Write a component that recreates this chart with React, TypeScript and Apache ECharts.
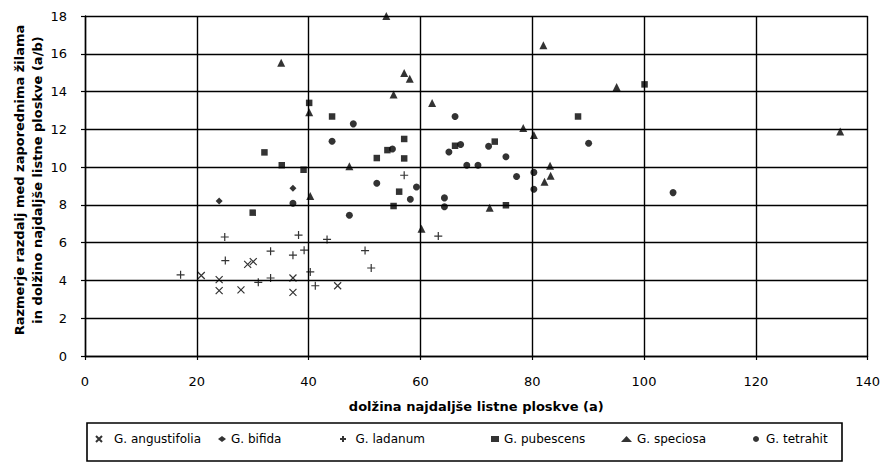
import React, { useEffect, useRef } from "react";
import * as echarts from "echarts";

const xTicks = [0, 20, 40, 60, 80, 100, 120, 140];
const yTicks = [0, 2, 4, 6, 8, 10, 12, 14, 16, 18];

const angustifolia: [number, number][] = [
  [20.8, 4.26], [24, 4.04], [24, 3.46], [27.9, 3.5], [29.1, 4.85], [30.1, 5.0],
  [37.2, 4.13], [37.2, 3.37], [45.2, 3.72],
];
const bifida: [number, number][] = [
  [24, 8.2], [37.2, 8.88],
];
const ladanum: [number, number][] = [
  [17.1, 4.3], [25, 6.3], [25.1, 5.05], [31, 3.9], [33.2, 4.13], [33.2, 5.55],
  [37.2, 5.34], [38.2, 6.4], [39.2, 5.6], [40.3, 4.45], [41.2, 3.72], [43.3, 6.17],
  [50.1, 5.58], [51.2, 4.66], [57.1, 9.57], [63.2, 6.35],
];
const pubescens: [number, number][] = [
  [30, 7.59], [32.1, 10.78], [35.2, 10.1], [39.1, 9.86], [40.1, 13.4], [44.2, 12.68],
  [52.2, 10.48], [54.1, 10.9], [55.2, 7.94], [56.2, 8.7], [57.1, 11.49], [57.1, 10.46],
  [66.2, 11.13], [73.3, 11.35], [75.3, 7.98], [88.2, 12.68], [100.1, 14.38],
];
const speciosa: [number, number][] = [
  [35.1, 15.53], [40.1, 12.9], [40.3, 8.47], [47.3, 10.04], [53.9, 18.0], [55.2, 13.85],
  [57.1, 14.98], [58.1, 14.68], [60.2, 6.74], [62.1, 13.4], [72.4, 7.85], [78.4, 12.07],
  [80.3, 11.7], [82.0, 16.45], [82.2, 9.22], [83.3, 9.54], [83.2, 10.07], [95.1, 14.24],
  [135.1, 11.88],
];
const tetrahit: [number, number][] = [
  [37.2, 8.09], [44.2, 11.37], [47.3, 7.45], [48.0, 12.29], [52.2, 9.15], [55.0, 10.96],
  [58.2, 8.3], [59.3, 8.95], [64.3, 8.37], [64.3, 7.9], [65.1, 10.8], [66.2, 12.68],
  [67.2, 11.2], [68.3, 10.1], [70.3, 10.1], [72.2, 11.1], [75.3, 10.55], [77.2, 9.5],
  [80.3, 9.72], [80.3, 8.83], [90.1, 11.26], [105.2, 8.65],
];

const seriesNames = ["G. angustifolia", "G. bifida", "G. ladanum", "G. pubescens", "G. speciosa", "G. tetrahit"];
const xTitle = "dolžina najdaljše listne ploskve (a)";
const yTitle1 = "Razmerje razdalj med zaporednima žilama";
const yTitle2 = "in dolžino najdaljše listne ploskve (a/b)";

const CROSS = "path://M0,0L10,10M10,0L0,10";
const PLUS = "path://M5,0L5,10M0,5L10,5";

export default function App() {
  const ref = useRef<HTMLDivElement>(null);
  useEffect(() => {
    if (!ref.current) return;
    const chart = echarts.init(ref.current, undefined, { renderer: "svg" });
    const font = "DejaVu Sans";
    const strokeStyle = { color: "rgba(0,0,0,0)", borderColor: "#000", borderWidth: 1.2 };
    const fillStyle = { color: "#000" };
    const dataSets = [angustifolia, bifida, ladanum, pubescens, speciosa, tetrahit];
    const symbols = [CROSS, "diamond", PLUS, "rect", "triangle", "circle"];
    const sizes = [7, 7, 8, 6.5, 8, 7];
    const styles = [strokeStyle, fillStyle, strokeStyle, fillStyle, fillStyle, fillStyle];
    // legend layout: [text start x, icon box width]
    const legendPos: [number, number][] = [
      [120, 20], [231, 8], [359, 15], [504, 8], [637, 11], [768, 10],
    ];
    const gridLine = { color: "#000", width: 1.4 };
    chart.setOption({
      animation: false,
      grid: { left: 85, right: 13, top: 16, bottom: 107, show: false },
      xAxis: {
        type: "value",
        min: xTicks[0],
        max: xTicks[xTicks.length - 1],
        interval: xTicks[1] - xTicks[0],
        name: xTitle,
        nameLocation: "middle",
        nameGap: 44,
        nameTextStyle: { fontFamily: font, fontWeight: "bold", fontSize: 13, color: "#000" },
        axisLine: { show: true, lineStyle: gridLine },
        axisTick: { show: true, length: 4, lineStyle: { color: "#000", width: 1.2 } },
        axisLabel: { margin: 19, fontFamily: font, fontSize: 13, color: "#000" },
        splitLine: { show: true, lineStyle: gridLine },
      },
      yAxis: {
        type: "value",
        min: yTicks[0],
        max: yTicks[yTicks.length - 1],
        interval: yTicks[1] - yTicks[0],
        axisLine: { show: true, lineStyle: gridLine },
        axisTick: { show: true, length: 4, lineStyle: { color: "#000", width: 1.2 } },
        axisLabel: { margin: 18, fontFamily: font, fontSize: 13, color: "#000" },
        splitLine: { show: true, lineStyle: gridLine },
      },
      legend: seriesNames.map((n, i) => ({
        data: [n],
        left: legendPos[i][0] - 5 - legendPos[i][1],
        top: 433,
        padding: 0,
        itemGap: 0,
        itemWidth: legendPos[i][1],
        itemHeight: 6,
        selectedMode: false,
        textStyle: { fontFamily: font, fontSize: 12, color: "#000" },
      })),
      graphic: [
        {
          type: "text",
          x: 19,
          y: 180,
          rotation: Math.PI / 2,
          style: {
            text: yTitle1,
            font: `bold 13px "${font}"`,
            fill: "#000",
            align: "center",
            verticalAlign: "middle",
            textAlign: "center",
            textVerticalAlign: "middle",
          },
        },
        {
          type: "text",
          x: 37,
          y: 180,
          rotation: Math.PI / 2,
          style: {
            text: yTitle2,
            font: `bold 13px "${font}"`,
            fill: "#000",
            align: "center",
            verticalAlign: "middle",
            textAlign: "center",
            textVerticalAlign: "middle",
          },
        },
        {
          type: "rect",
          shape: { x: 87, y: 423, width: 755, height: 38 },
          style: { fill: "none", stroke: "#000", lineWidth: 1.6 },
          z: -1,
        },
      ],
      series: seriesNames.map((n, i) => ({
        type: "scatter",
        name: n,
        data: dataSets[i],
        symbol: symbols[i],
        symbolSize: sizes[i],
        itemStyle: styles[i],
        clip: false,
        emphasis: { disabled: true },
      })),
    });
    return () => chart.dispose();
  }, []);
  return (
    <div
      ref={ref}
      style={{ position: "fixed", left: 0, top: 0, width: 883, height: 463, background: "#fff" }}
    />
  );
}
